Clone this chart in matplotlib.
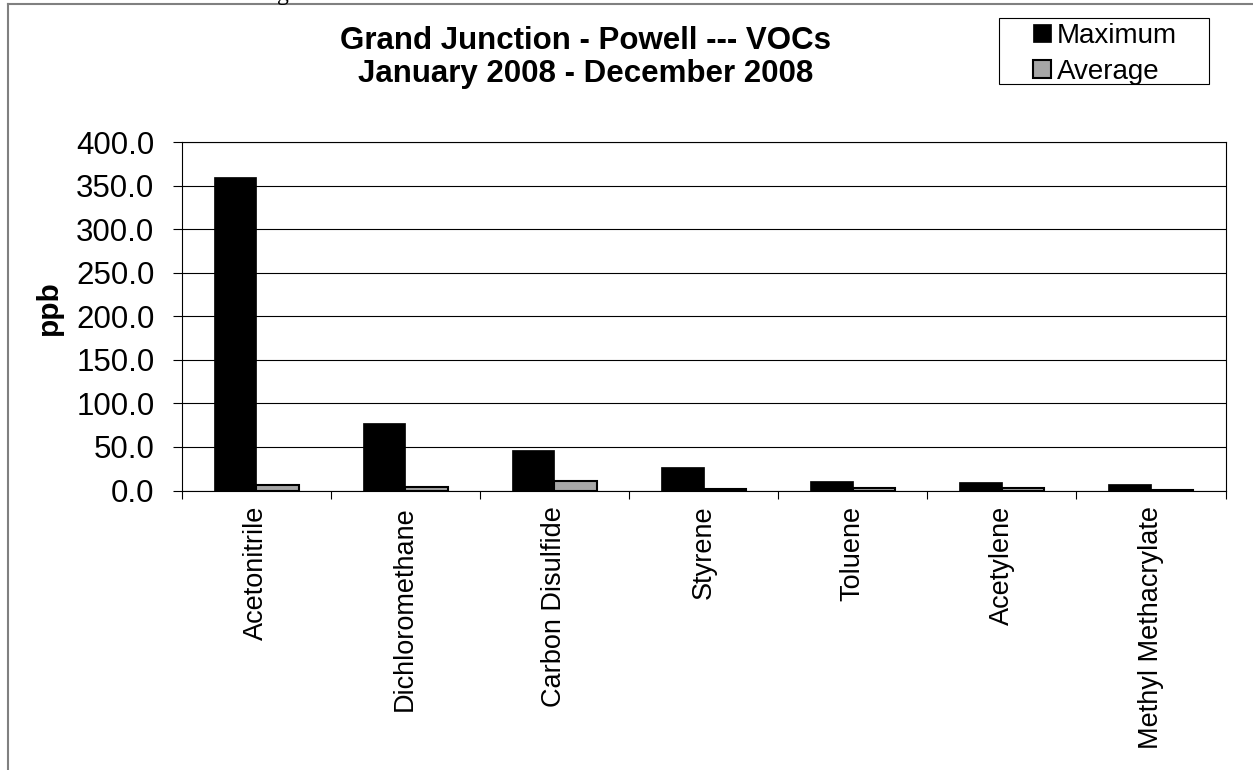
import numpy as np
import matplotlib
matplotlib.use('Agg')
import matplotlib.pyplot as plt
from matplotlib.lines import Line2D
from matplotlib.patches import Patch, Rectangle

matplotlib.rcParams['font.family'] = 'Liberation Sans'

# data
compounds = ['Acetonitrile', 'Dichloromethane', 'Carbon Disulfide', 'Styrene',
             'Toluene', 'Acetylene', 'Methyl Methacrylate']
maximum = [360.0, 78.0, 46.0, 27.0, 11.0, 10.3, 8.0]
average = [6.5, 3.5, 11.0, 1.5, 3.3, 2.7, 1.1]
yticks = [0, 50, 100, 150, 200, 250, 300, 350, 400]

W, H = 1253, 770
fig = plt.figure(figsize=(W/100, H/100), dpi=100)
ax = fig.add_axes([181.5/W, 1 - 490.5/H, (1225.5 - 181.5)/W, (490.5 - 142)/H])

x = np.arange(len(compounds))
w = 0.285
ax.bar(x - w/2, maximum, w, color='black', edgecolor='black', lw=0.5, zorder=3)
ax.bar(x + w/2, average, w, color='#a6a6a6', edgecolor='black', lw=1.5, zorder=3)

# axes settings
ax.set_xlim(-0.5, len(compounds) - 0.5)
ax.set_ylim(0, 400)
ax.set_yticks(yticks)
ax.set_yticklabels(['%.1f' % v for v in yticks], fontsize=22.5)
ax.yaxis.grid(True, color='black', lw=0.8, zorder=0)
ax.tick_params(axis='y', length=6.5, width=0.8, pad=13)

ax.set_xticks(np.arange(-0.5, len(compounds), 1.0))
ax.set_xticklabels([])
ax.set_xticks(x, minor=True)
ax.set_xticklabels(compounds, minor=True, rotation=90, fontsize=19.5, va='top')
ax.tick_params(axis='x', which='major', length=6, width=0.8)
ax.tick_params(axis='x', which='minor', length=0, pad=11)
for s in ax.spines.values():
    s.set_linewidth(0.8)
    s.set_color('black')

fig.text(48.5/W, 1 - 307.5/H, 'ppb', rotation=90, ha='center', va='center',
         fontsize=21.5, fontweight='bold')

fig.text(586/W, 1 - 41/H, 'Grand Junction - Powell --- VOCs', ha='center', va='center',
         fontsize=22.5, fontweight='bold')
fig.text(586/W, 1 - 74/H, 'January 2008 - December 2008', ha='center', va='center',
         fontsize=22.5, fontweight='bold')

# legend
handles = [Patch(facecolor='black', edgecolor='black', lw=0.5),
           Patch(facecolor='#a6a6a6', edgecolor='black', lw=1.5)]
fig.legend(handles, ['Maximum', 'Average'], loc='upper left',
           bbox_to_anchor=(1033/W, 1 - 23/H), fontsize=20,
           frameon=False, handlelength=0.65, handleheight=0.6, handletextpad=0.2,
           borderpad=0, labelspacing=0.35, borderaxespad=0)
fig.add_artist(Rectangle((999/W, 1 - 84/H), 210/W, 66/H, transform=fig.transFigure,
                         fill=False, edgecolor='black', lw=0.8))

# page frame and cut-off document text
fig.add_artist(Line2D([7.5/W, 7.5/W], [0, 1 - 3.5/H], color='#808080', lw=1.5))
fig.add_artist(Line2D([7.5/W, 1], [1 - 3.5/H, 1 - 3.5/H], color='#808080', lw=1.5))
fig.text(0.221, 1.0, 'g', fontsize=17, family='Liberation Serif', va='baseline')

plt.savefig('out.png', dpi=100)
